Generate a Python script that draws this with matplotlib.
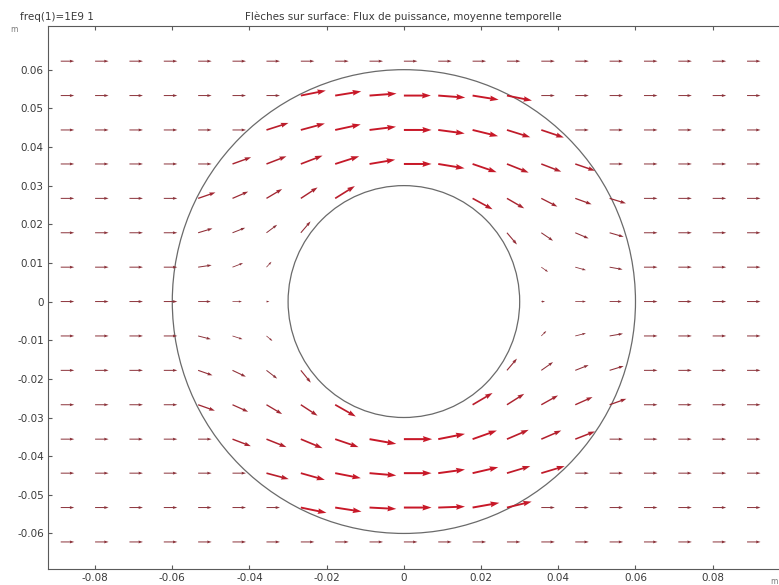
import numpy as np
import matplotlib
matplotlib.use("Agg")
import matplotlib.pyplot as plt
from matplotlib.patches import Circle

# ---------------- data ----------------
x_grid = [-0.0889, -0.0800, -0.0711, -0.0622, -0.0533, -0.0444, -0.0356,
          -0.0267, -0.0178, -0.0089, 0.0, 0.0089, 0.0178, 0.0267, 0.0356,
          0.0444, 0.0533, 0.0622, 0.0711, 0.0800, 0.0889]
y_grid = [0.0622, 0.0533, 0.0444, 0.0356, 0.0267, 0.0178, 0.0089, 0.0,
          -0.0089, -0.0178, -0.0267, -0.0356, -0.0444, -0.0533, -0.0622]

N = np.nan
F = 1.0
# x-component of time-averaged power flow (relative), rows top -> bottom
u_rows = [
    [F]*21,
    [F, F, F, F, F, F, F, 1.85, 1.93, 2.00, 2.00, 2.00, 1.93, 1.85, F, F, F, F, F, F, F],
    [F, F, F, F, F, F, 1.63, 1.78, 1.89, 1.96, 2.05, 1.96, 1.89, 1.73, 1.67, F, F, F, F, F, F],
    [F, F, F, F, F, 1.38, 1.48, 1.61, 1.78, 1.90, 2.05, 1.95, 1.78, 1.61, 1.48, 1.46, F, F, F, F, F],
    [F, F, F, F, 1.28, 1.16, 1.16, 1.24, 1.46, N, N, N, 1.48, 1.28, 1.19, 1.21, 1.21, F, F, F, F],
    [F, F, F, F, 1.06, 0.94, 0.79, 0.72, N, N, N, N, N, 0.74, 0.87, 0.99, 1.04, F, F, F, F],
    [F, F, F, F, 1.00, 0.78, 0.37, N, N, N, N, N, N, N, 0.50, 0.79, 0.96, F, F, F, F],
    [F, F, F, F, 0.94, 0.70, 0.22, N, N, N, N, N, N, N, 0.28, 0.79, 0.91, F, F, F, F],
    [F, F, F, F, 0.94, 0.74, 0.44, N, N, N, N, N, N, N, 0.37, 0.79, 0.99, F, F, F, F],
    [F, F, F, F, 1.06, 0.99, 0.79, 0.74, N, N, N, N, N, 0.74, 0.87, 0.99, 1.04, F, F, F, F],
    [F, F, F, F, 1.24, 1.16, 1.16, 1.24, 1.53, N, N, N, 1.48, 1.28, 1.24, 1.28, 1.24, F, F, F, F],
    [F, F, F, F, F, 1.36, 1.48, 1.61, 1.73, 1.98, 2.10, 1.98, 1.80, 1.61, 1.48, 1.46, F, F, F, F, F],
    [F, F, F, F, F, F, 1.65, 1.78, 1.90, 1.98, 2.05, 1.98, 1.90, 1.73, 1.73, F, F, F, F, F, F],
    [F, F, F, F, F, F, F, 1.90, 1.95, 1.98, 2.05, 1.98, 1.98, 1.83, F, F, F, F, F, F, F],
    [F]*21,
]
Z = 0.0
# y-component of time-averaged power flow (relative), rows top -> bottom
v_rows = [
    [Z]*21,
    [Z, Z, Z, Z, Z, Z, Z, 0.37, 0.31, 0.15, 0.0, -0.15, -0.31, -0.37, Z, Z, Z, Z, Z, Z, Z],
    [Z, Z, Z, Z, Z, Z, 0.52, 0.48, 0.41, 0.24, 0.0, -0.26, -0.46, -0.54, -0.56, Z, Z, Z, Z, Z, Z],
    [Z, Z, Z, Z, Z, 0.50, 0.57, 0.62, 0.57, 0.32, 0.0, -0.32, -0.61, -0.64, -0.57, -0.50, Z, Z, Z, Z, Z],
    [Z, Z, Z, Z, 0.44, 0.50, 0.69, 0.81, 0.91, N, N, N, -0.81, -0.74, -0.61, -0.44, -0.37, Z, Z, Z, Z],
    [Z, Z, Z, Z, 0.32, 0.37, 0.59, 0.84, N, N, N, N, N, -0.87, -0.59, -0.42, -0.30, Z, Z, Z, Z],
    [Z, Z, Z, Z, 0.15, 0.30, 0.40, N, N, N, N, N, N, N, -0.35, -0.22, -0.17, Z, Z, Z, Z],
    [Z, Z, Z, Z, 0.0, 0.0, 0.0, N, N, N, N, N, N, N, 0.0, 0.0, 0.0, Z, Z, Z, Z],
    [Z, Z, Z, Z, -0.24, -0.24, -0.37, N, N, N, N, N, N, N, 0.37, 0.20, 0.17, Z, Z, Z, Z],
    [Z, Z, Z, Z, -0.37, -0.47, -0.61, -0.91, N, N, N, N, N, 0.87, 0.61, 0.39, 0.32, Z, Z, Z, Z],
    [Z, Z, Z, Z, -0.44, -0.52, -0.69, -0.81, -0.87, N, N, N, 0.87, 0.81, 0.69, 0.57, 0.44, Z, Z, Z, Z],
    [Z, Z, Z, Z, Z, -0.52, -0.59, -0.67, -0.59, -0.35, 0.0, 0.39, 0.64, 0.69, 0.64, 0.57, Z, Z, Z, Z, Z],
    [Z, Z, Z, Z, Z, Z, -0.44, -0.50, -0.37, -0.17, 0.0, 0.27, 0.44, 0.52, 0.52, Z, Z, Z, Z, Z, Z],
    [Z, Z, Z, Z, Z, Z, Z, -0.39, -0.30, -0.10, 0.0, 0.07, 0.35, 0.44, Z, Z, Z, Z, Z, Z, Z],
    [Z]*21,
]

inner_radius = 0.03
outer_radius = 0.06

x_ticks = [-0.08, -0.06, -0.04, -0.02, 0.0, 0.02, 0.04, 0.06, 0.08]
x_tick_labels = ["-0.08", "-0.06", "-0.04", "-0.02", "0", "0.02", "0.04", "0.06", "0.08"]
y_ticks = [0.06, 0.05, 0.04, 0.03, 0.02, 0.01, 0.0, -0.01, -0.02, -0.03, -0.04, -0.05, -0.06]
y_tick_labels = ["0.06", "0.05", "0.04", "0.03", "0.02", "0.01", "0", "-0.01", "-0.02",
                 "-0.03", "-0.04", "-0.05", "-0.06"]

title_text = "Flèches sur surface: Flux de puissance, moyenne temporelle"
param_text = "freq(1)=1E9 1"

# ---------------- figure ----------------
W, H = 779, 585
fig = plt.figure(figsize=(W / 100, H / 100), dpi=100)
ax_left, ax_top, ax_bottom = 48, 26, 569
ax = fig.add_axes([ax_left / W, (H - ax_bottom) / H, (W - ax_left) / W, (ax_bottom - ax_top) / H])
ax.set_xlim(-0.0922, 0.09718)
ax.set_ylim(-0.0692, 0.0713)

text_col = "#3a3a3a"
spine_col = "#5a5a5a"

ax.add_patch(Circle((0, 0), outer_radius, fill=False, ec="#6a6a6a", lw=0.9, zorder=1))
ax.add_patch(Circle((0, 0), inner_radius, fill=False, ec="#6a6a6a", lw=0.9, zorder=1))

px_per_unit = 13.5          # pixel length of a unit arrow
px_per_m = 3860.0
scale = px_per_m / px_per_unit

small_c = np.array([138, 48, 56]) / 255
large_c = np.array([200, 24, 40]) / 255

U = np.array(u_rows, dtype=float)
V = np.array(v_rows, dtype=float)
for r, yv in enumerate(y_grid):
    for c, xv in enumerate(x_grid):
        uu, vv = U[r, c], V[r, c]
        if np.isnan(uu) or np.isnan(vv):
            continue
        L = np.hypot(uu, vv) * px_per_unit
        t = np.clip((L - 13.5) / (26.0 - 13.5), 0, 1)
        col = (1 - t) * small_c + t * large_c
        w = max(0.072 * L, 0.7)
        ax.quiver([xv], [yv], [uu], [vv], angles="xy", scale_units="xy", scale=scale,
                  units="dots", width=w, headwidth=3.0, headlength=4.6,
                  headaxislength=4.2, color=col, zorder=3, minlength=0.3)

ax.set_xticks(x_ticks)
ax.set_xticklabels(x_tick_labels)
ax.set_yticks(y_ticks)
ax.set_yticklabels(y_tick_labels)
ax.tick_params(direction="in", length=3, width=0.8, color=spine_col, labelcolor=text_col,
               labelsize=7.5, pad=3, top=True, right=False)
ax.spines["right"].set_visible(False)
for s in ["left", "top", "bottom"]:
    ax.spines[s].set_color(spine_col)
    ax.spines[s].set_linewidth(0.8)

fig.text(403 / W, 1 - 17 / H, title_text, ha="center", va="center", fontsize=7.5, color=text_col)
fig.text(20 / W, 1 - 17 / H, param_text, ha="left", va="center", fontsize=7.5, color=text_col)
fig.text(14 / W, 1 - 30 / H, "m", ha="center", va="center", fontsize=5.5, color="#777777")
fig.text(774 / W, 1 - 581 / H, "m", ha="center", va="center", fontsize=5.5, color="#777777")

fig.savefig("out.png", dpi=100)
